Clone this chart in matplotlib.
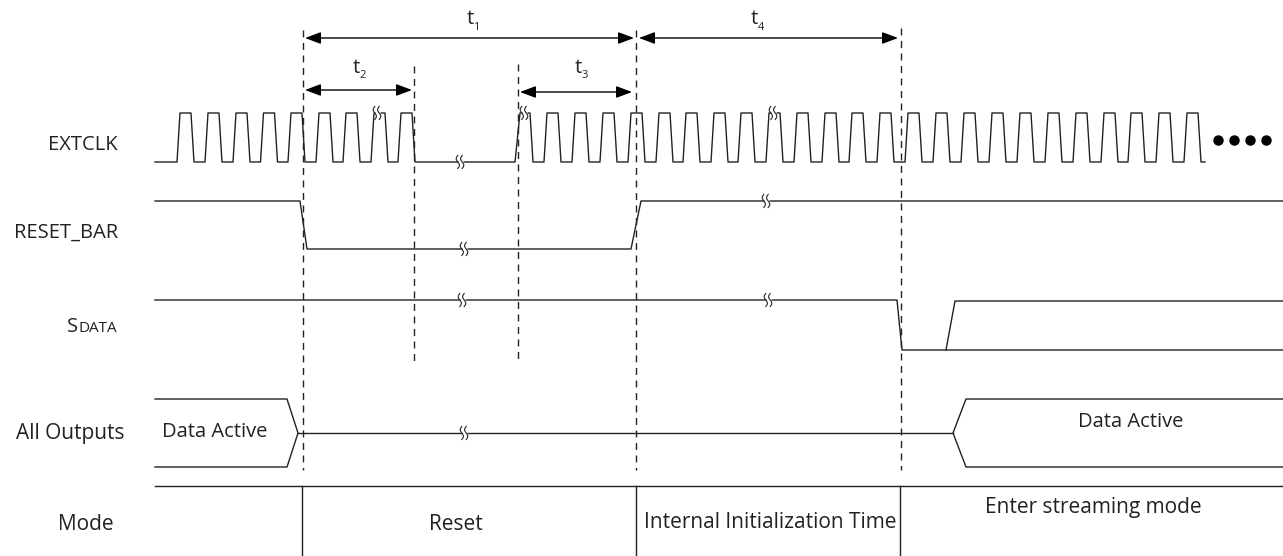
import numpy as np
import matplotlib.pyplot as plt

plt.rcParams['font.family'] = ['Open Sans', 'DejaVu Sans']

INK = '#222222'

# row labels (x = right edge, y = centre, in pixels of the drawing)
row_names = ['EXTCLK', 'RESET_BAR', 'All Outputs', 'Mode']
row_label_x = [118, 118, 124, 114]
row_label_y = [145, 233, 434, 524]
row_label_size = [14.5, 14.5, 15, 15]

# EXTCLK: levels and rising edges
clk_hi, clk_lo = 113, 162
clk_start, clk_stop = 155, 1205
clk_rise_a = [177, 205, 233, 260.5, 288, 316, 343, 371, 398]
clk_restart = 515
clk_rise_b = [544, 572, 600, 628, 656, 683, 711, 738, 766, 794, 822, 849,
              877, 905, 933, 961, 989, 1017, 1045, 1073, 1101, 1128, 1156, 1184]
clk_dots_x = [1218, 1234, 1250, 1266]
clk_dots_y = 140

# RESET_BAR
rst_x = [155, 300, 307, 631, 641, 1283]
rst_y = [201, 201, 249, 249, 201, 201]

# SDATA
sd_x = [155, 897, 902, 1283]
sd_y = [300, 300, 350, 350]
sd2_x = [946, 955, 1283]
sd2_y = [350, 301, 301]

# All Outputs bus
out_top, out_mid, out_bot = 399, 433, 467
out_left_end, out_left_tip = 287, 298
out_right_tip, out_right_start = 953, 966

# section boundaries
mark_x = [303, 414, 518, 636, 901]
mark_top = [30, 66, 64, 30, 28]
mark_bot = [470, 362, 360, 470, 470]
mode_x = [302, 636, 900]
sep_y = 486

# mode row texts
mode_names = ['Reset', 'Internal Initialization Time', 'Enter streaming mode']
mode_text_x = [456, 770, 1093]
mode_text_y = [525, 523, 508]

# timing arrows: name, start, end, y, label position
arrows = [
    ('1', 305, 634, 38, 470, 19),
    ('2', 305, 412, 90, 356, 68),
    ('3', 520, 632, 92, 578, 68),
    ('4', 639, 898, 38, 754, 19),
]

# break marks (x, y)
breaks = [(377, 113), (460, 162), (524, 113), (773, 113),
          (464, 249), (766, 201), (462, 300), (768, 300), (464, 433)]


def clock_path():
    xs, ys = [clk_start], [clk_lo]
    for r in clk_rise_a:
        xs += [r, r + 3, r + 14, r + 17]
        ys += [clk_lo, clk_hi, clk_hi, clk_lo]
    xs += [clk_restart, clk_restart + 5, clk_restart + 15, clk_restart + 18]
    ys += [clk_lo, clk_hi, clk_hi, clk_lo]
    for r in clk_rise_b:
        xs += [r, r + 3, r + 14, r + 17]
        ys += [clk_lo, clk_hi, clk_hi, clk_lo]
    xs.append(clk_stop)
    ys.append(clk_lo)
    return xs, ys


def break_mark(ax, x, y):
    ax.plot([x - 2.5, x + 2.5], [y, y], color='white', lw=2.5, zorder=3,
            solid_capstyle='butt')
    t = np.linspace(-1, 1, 30)
    for dx in (-2.2, 2.2):
        ax.plot(x + dx + 1.6 * np.sin(t * np.pi), y + 6.5 * t, color=INK,
                lw=0.8, zorder=4)


fig = plt.figure(figsize=(12.83, 5.56), dpi=100)
ax = fig.add_axes([0, 0, 1, 1])
ax.set_xlim(0, 1283)
ax.set_ylim(556, 0)
ax.axis('off')

lw = 1.0
cx, cy = clock_path()
ax.plot(cx, cy, color=INK, lw=lw)
ax.plot(clk_dots_x, [clk_dots_y] * len(clk_dots_x), 'o', color='black', ms=6.5)

ax.plot(rst_x, rst_y, color=INK, lw=lw)
ax.plot(sd_x, sd_y, color=INK, lw=lw)
ax.plot(sd2_x, sd2_y, color=INK, lw=lw)

# All Outputs
ax.plot([155, out_left_end, out_left_tip, out_left_end, 155],
        [out_top, out_top, out_mid, out_bot, out_bot], color=INK, lw=lw)
ax.plot([out_left_tip, out_right_tip], [out_mid, out_mid], color=INK, lw=lw)
ax.plot([1283, out_right_start, out_right_tip, out_right_start, 1283],
        [out_top, out_top, out_mid, out_bot, out_bot], color=INK, lw=lw)
ax.text(215, 432, 'Data Active', ha='center', va='center', fontsize=14.5, color=INK)
ax.text(1131, 422, 'Data Active', ha='center', va='center', fontsize=14.5, color=INK)

# mode row
ax.plot([155, 1283], [sep_y, sep_y], color=INK, lw=lw)
for x in mode_x:
    ax.plot([x, x], [sep_y, 556], color=INK, lw=lw)
for name, x, y in zip(mode_names, mode_text_x, mode_text_y):
    ax.text(x, y, name, ha='center', va='center', fontsize=15, color=INK)

# dashed markers
for x, y0, y1 in zip(mark_x, mark_top, mark_bot):
    ax.plot([x, x], [y0, y1], color=INK, lw=1.0, ls=(0, (5, 4)))

# timing arrows
for name, x0, x1, y, tx, ty in arrows:
    ax.annotate('', xy=(x1, y), xytext=(x0, y),
                arrowprops=dict(arrowstyle='<|-|>,head_length=0.8,head_width=0.3',
                                mutation_scale=12, lw=1.0, color='black',
                                shrinkA=0, shrinkB=0))
    ax.text(tx, ty, 't', ha='center', va='center', fontsize=14.5, color=INK)
    ax.text(tx + 6.5, ty + 8, name, ha='center', va='center', fontsize=8, color=INK)

for x, y in breaks:
    break_mark(ax, x, y)

# row labels
for name, x, y, s in zip(row_names, row_label_x, row_label_y, row_label_size):
    ax.text(x, y, name, ha='right', va='center', fontsize=s, color=INK)
# SDATA in small caps
ax.text(78, 327, 'S', ha='right', va='center', fontsize=14.5, color=INK)
ax.text(78, 328, 'DATA', ha='left', va='center', fontsize=11, color=INK)

fig.savefig('out.png', dpi=100)
